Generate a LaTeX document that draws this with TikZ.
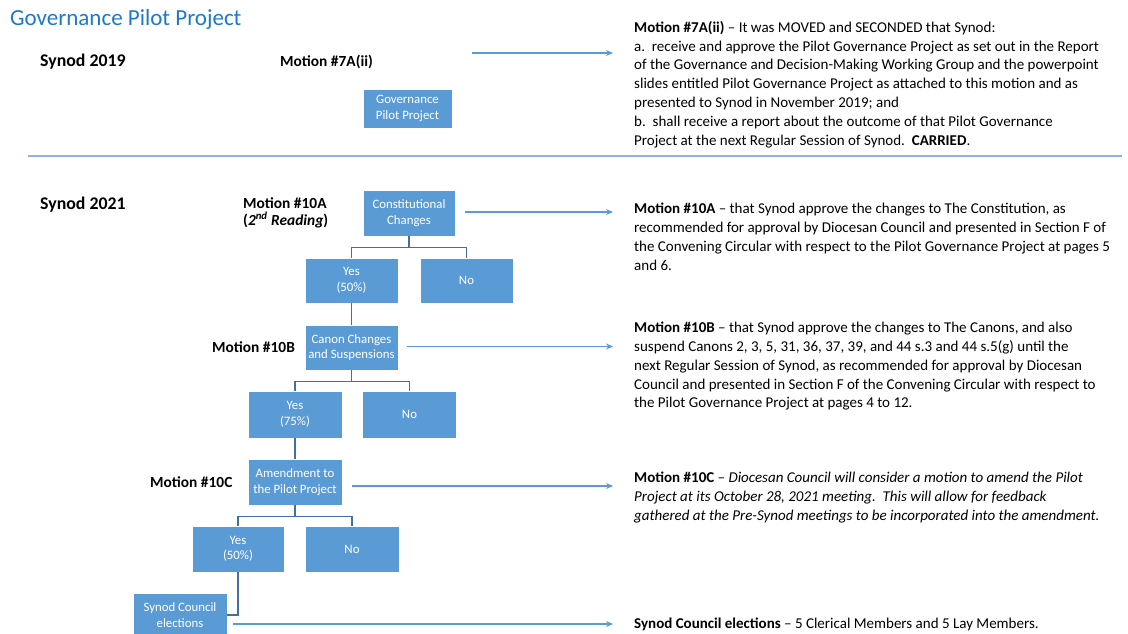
\documentclass[tikz,border=0pt]{standalone}
\usepackage{fontspec}
\setmainfont{Carlito}
\usepackage{xcolor}
\usetikzlibrary{arrows.meta,positioning,calc}
\definecolor{boxblue}{HTML}{5B9BD5}
\definecolor{treeblue}{HTML}{41719C}
\definecolor{ruleblue}{HTML}{8DB4E2}
\definecolor{titleblue}{HTML}{1F78C8}
\tikzset{
  box/.style={draw=white, fill=boxblue, text=white, align=center, inner sep=1pt,
    font=\fontsize{12.8}{15.5}\selectfont, minimum width=93pt, minimum height=46pt},
  synod/.style={anchor=west, inner sep=0pt, font=\fontsize{17.8}{20}\selectfont\bfseries},
  tag/.style={anchor=west, inner sep=0pt, align=left, font=\fontsize{15.4}{17}\selectfont\bfseries},
  note/.style={anchor=north west, inner sep=0pt, align=left, font=\fontsize{15}{18.8}\selectfont},
  tree/.style={draw=treeblue, line width=1.2pt},
  arrow/.style={-{Stealth[length=7pt,width=6pt]}, draw=boxblue, line width=1.1pt, shorten >=21pt},
}

\begin{document}
\begin{tikzpicture}[x=1pt,y=-1pt]
\useasboundingbox (0,0) rectangle (1128,634);
\node[anchor=west, inner sep=0pt, text=titleblue, font=\fontsize{23}{26}\selectfont] (title) at (10,19) {Governance Pilot Project};

% Synod 2019
\node[synod] (syn19) at (40,62) {Synod 2019};
\node[tag] (mot7) at (280,62) {Motion \#7A(ii)};
\node[box, minimum width=89pt, minimum height=39pt] (gpp) at (407.5,108.5) {Governance\\Pilot Project};
\node[note] (m7a) at (634,21) {\textbf{Motion \#7A(ii)} -- It was MOVED and SECONDED that Synod:\\
a.\ \ receive and approve the Pilot Governance Project as set out in the Report\\
of the Governance and Decision-Making Working Group and the powerpoint\\
slides entitled Pilot Governance Project as attached to this motion and as\\
presented to Synod in November 2019; and\\
b.\ \ shall receive a report about the outcome of that Pilot Governance\\
Project at the next Regular Session of Synod.\ \ \textbf{CARRIED}.};
\coordinate (s19) at (472,53);
\draw[arrow] (s19) -- (s19 -| m7a.west);

\draw[draw=ruleblue, line width=1.3pt] (28,156) -- (1122,156);

% Synod 2021
\node[synod] (syn21) at (40,205) {Synod 2021};
\node[tag] (mot10a) at (243,212.5) {Motion \#10A\\(\textit{2\textsuperscript{nd} Reading})};
\node[tag] (mot10b) at (212,347) {Motion \#10B};
\node[tag] (mot10c) at (150,482) {Motion \#10C};

\node[box, minimum width=92pt] (cc) at (409,213) {Constitutional\\Changes};
\node[box, minimum height=45pt] (yes1) at (351.5,280.5) {Yes\\(50\%)};
\node[box, minimum height=45pt] (no1) at (466.5,280.5) {No};
\node[box, minimum height=45pt] (ccs) at (351.5,347.5) {Canon Changes\\and Suspensions};
\node[box, minimum width=94pt, minimum height=47pt] (yes2) at (295,414.5) {Yes\\(75\%)};
\node[box, minimum width=94pt, minimum height=47pt] (no2) at (409.5,414.5) {No};
\node[box, minimum width=94pt] (amd) at (295,482) {Amendment to\\the Pilot Project};
\node[box, minimum width=92pt] (yes3) at (238,549) {Yes\\(50\%)};
\node[box, minimum width=94pt] (no3) at (352,549) {No};
\node[box, minimum width=94pt, minimum height=44pt] (scc) at (180,615) {Synod Council\\elections};

\foreach \top/\l/\r in {cc/yes1/no1, ccs/yes2/no2, amd/yes3/no3}
  \draw[tree] (\top.south) -- ++(0,11) coordinate (j) (\l.north) |- (j) -| (\r.north);
\draw[tree] (yes1.south) -- (ccs.north);
\draw[tree] (yes2.south) -- (amd.north);
\draw[tree] (yes3.south) |- (scc.east);

\node[note] (m10a) at (634,203) {\textbf{Motion \#10A} -- that Synod approve the changes to The Constitution, as\\
recommended for approval by Diocesan Council and presented in Section F of\\
the Convening Circular with respect to the Pilot Governance Project at pages 5\\
and 6.};
\node[note] (m10b) at (634,322) {\textbf{Motion \#10B} -- that Synod approve the changes to The Canons, and also\\
suspend Canons 2, 3, 5, 31, 36, 37, 39, and 44 s.3 and 44 s.5(g) until the\\
next Regular Session of Synod, as recommended for approval by Diocesan\\
Council and presented in Section F of the Convening Circular with respect to\\
the Pilot Governance Project at pages 4 to 12.};
\node[note] (m10c) at (634,472) {\textbf{Motion \#10C} -- \textit{Diocesan Council will consider a motion to amend the Pilot}\\
\textit{Project at its October 28, 2021 meeting.\ \ This will allow for feedback}\\
\textit{gathered at the Pre-Synod meetings to be incorporated into the amendment.}};
\node[note] (elec) at (634,618) {\textbf{Synod Council elections} -- 5 Clerical Members and 5 Lay Members.};

\draw[arrow] ($(cc.east)+(10,-1)$) -- ($(cc.east -| m10a.west)+(0,-1)$);
\draw[arrow] ($(ccs.east)+(9,-1)$) -- ($(ccs.east -| m10b.west)+(0,-1)$);
\draw[arrow] ($(amd.east)+(10,4)$) -- ($(amd.east -| m10c.west)+(0,4)$);
\draw[arrow] ($(scc.east)+(6,9)$) -- ($(scc.east -| elec.west)+(0,9)$);
\end{tikzpicture}
\end{document}
